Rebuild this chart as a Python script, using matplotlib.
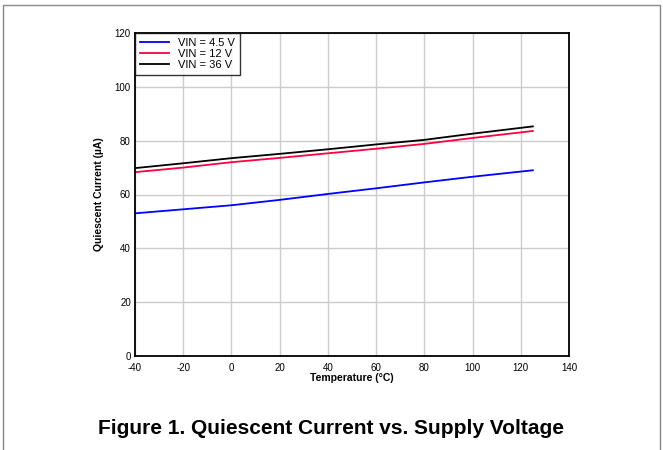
import numpy as np
import matplotlib.pyplot as plt
from matplotlib.patches import Rectangle

plt.rcParams['font.family'] = ['Liberation Sans', 'DejaVu Sans']
plt.rcParams['axes.unicode_minus'] = False

temp = [-40, -20, 0, 20, 40, 60, 80, 100, 125]
iq_4v5 = [53.0, 54.5, 56.0, 58.0, 60.2, 62.3, 64.5, 66.6, 69.0]
iq_12v = [68.3, 70.0, 72.0, 73.6, 75.3, 77.0, 78.8, 81.0, 83.6]
iq_36v = [69.8, 71.6, 73.5, 75.1, 76.8, 78.6, 80.3, 82.6, 85.3]

fig = plt.figure(figsize=(6.63, 4.5), dpi=100)
ax = fig.add_axes([135/663, 1-356/450, (569-135)/663, (356-33)/450])

ax.plot(temp, iq_4v5, color='#0000ff', lw=1.3, label='VIN = 4.5 V')
ax.plot(temp, iq_12v, color='#ff0040', lw=1.3, label='VIN = 12 V')
ax.plot(temp, iq_36v, color='#000000', lw=1.3, label='VIN = 36 V')

ax.set_xlim(-40, 140)
ax.set_ylim(0, 120)
ax.set_xticks(np.arange(-40, 141, 20))
ax.set_yticks(np.arange(0, 121, 20))
ax.grid(True, color='#cccccc', lw=1)
ax.set_axisbelow(True)
ax.tick_params(length=0, labelsize=7, pad=3)
ax.tick_params(axis='x', pad=5)
for s in ax.spines.values():
    s.set_linewidth(1.3)
ax.set_xlabel('Temperature (°C)', fontsize=7.5, fontweight='bold', labelpad=0)
ax.set_ylabel('Quiescent Current (µA)', fontsize=7.5, fontweight='bold', labelpad=8)

leg = ax.legend(loc='upper left', fontsize=8, frameon=True, fancybox=False,
                borderaxespad=0, handlelength=2.6, labelspacing=0.1,
                borderpad=0.45, handletextpad=0.8)
leg.get_frame().set_edgecolor('black')
leg.get_frame().set_linewidth(1.0)

fig.text(0.5, 1-428/450, 'Figure 1. Quiescent Current vs. Supply Voltage',
         ha='center', va='center', fontsize=15, fontweight='bold')

# page border
fig.patches.append(Rectangle((3/663, -0.01), 657/663, 1.0, transform=fig.transFigure,
                             fill=False, edgecolor='#888888', lw=1))

fig.savefig('out.png', dpi=100)
